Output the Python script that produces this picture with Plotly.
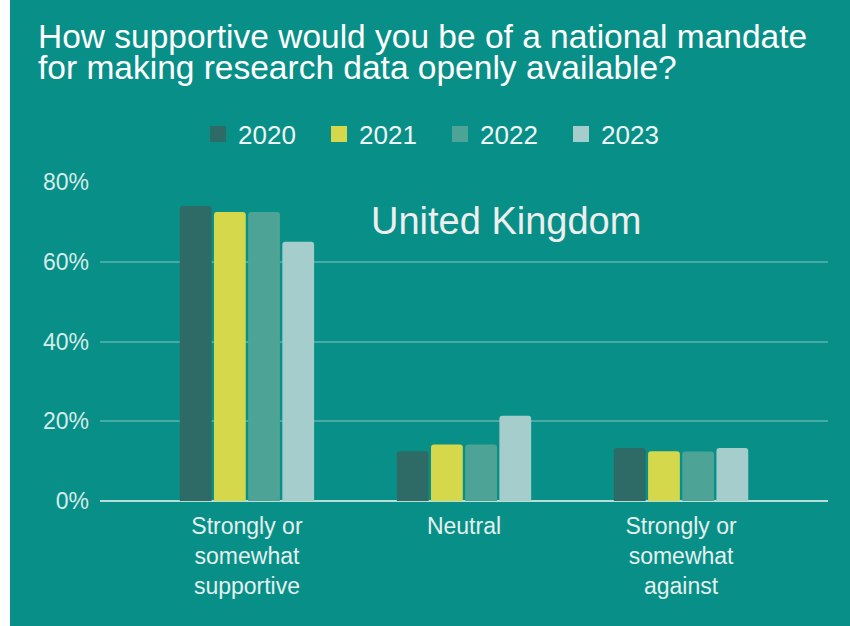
import plotly.graph_objects as go

categories = ["Strongly or<br>somewhat<br>supportive", "Neutral", "Strongly or<br>somewhat<br>against"]
years = ["2020", "2021", "2022", "2023"]
values_2020 = [74, 12.5, 13.3]
values_2021 = [72.5, 14.2, 12.5]
values_2022 = [72.5, 14.2, 12.4]
values_2023 = [65, 21.4, 13.3]
series = [values_2020, values_2021, values_2022, values_2023]
colors = ["#2F6B66", "#D5D84A", "#4DA396", "#A4CDCB"]
tick_vals = [0, 20, 40, 60, 80]
tick_text = ["0%", "20%", "40%", "60%", "80%"]

BG = "#088F87"
FONT = "Liberation Sans, Arial, sans-serif"

fig = go.Figure()
for name, vals, col in zip(years, series, colors):
    fig.add_trace(go.Bar(x=categories, y=vals, name=name, legendgroup=name, showlegend=False,
                         marker=dict(color=col, line=dict(width=0), cornerradius=3)))
# legend entries with larger square swatches
for name, col in zip(years, colors):
    fig.add_trace(go.Scatter(x=[None], y=[None], mode="markers", name=name, legendgroup=name,
                             marker=dict(symbol="square", size=16, color=col, line=dict(width=0))))

W, H = 850, 626
L, R, T, B = 100, 22, 182, 125
pw, ph = W - L - R, H - T - B

def px(x):
    return (x - L) / pw

def py(y):
    return (H - B - y) / ph

fig.update_layout(
    width=W, height=H,
    margin=dict(l=L, r=R, t=T, b=B),
    paper_bgcolor=BG, plot_bgcolor=BG,
    barmode="group", bargap=0.37, bargroupgap=0.07,
    font=dict(family=FONT, color="#E6F3F1"),
    showlegend=True,
    legend=dict(orientation="h", x=px(198), xanchor="left", y=py(134), yanchor="middle",
                font=dict(size=26, color="#EEF6F5"), bgcolor="rgba(0,0,0,0)",
                traceorder="normal", itemwidth=30, entrywidth=76),
    xaxis=dict(range=[-0.677, 2.677], showgrid=False, ticks="", showline=False,
               zeroline=False, ticklabelstandoff=9, tickfont=dict(size=23, color="#E3F1EF")),
    yaxis=dict(range=[0, 80], tickvals=tick_vals, ticktext=tick_text,
               showgrid=True, gridcolor="rgba(255,255,255,0.25)", gridwidth=2,
               zeroline=True, zerolinecolor="#B8DEDA", zerolinewidth=2,
               showline=False, ticks="", ticklabelstandoff=10,
               tickfont=dict(size=23, color="#D5ECE9")),
    annotations=[
        dict(text="How supportive would you be of a national mandate", xref="paper", yref="paper",
             x=px(36), y=py(36), xanchor="left", yanchor="middle", showarrow=False,
             font=dict(size=33.5, color="#FFFFFF", family=FONT)),
        dict(text="for making research data openly available?", xref="paper", yref="paper",
             x=px(36), y=py(67), xanchor="left", yanchor="middle", showarrow=False,
             font=dict(size=33.5, color="#FFFFFF", family=FONT)),
        dict(text="United Kingdom", xref="paper", yref="paper",
             x=px(506), y=py(221), xanchor="center", yanchor="middle", showarrow=False,
             font=dict(size=38, color="#EEEEEE", family=FONT)),
    ],
    shapes=[dict(type="rect", xref="paper", yref="paper", x0=px(0), x1=px(10), y0=py(H), y1=py(0),
                 fillcolor="#FFFFFF", line=dict(width=0), layer="above")],
)

fig.write_html("out.html", config={"displayModeBar": False},
               post_script="document.body.style.margin='0px';")
